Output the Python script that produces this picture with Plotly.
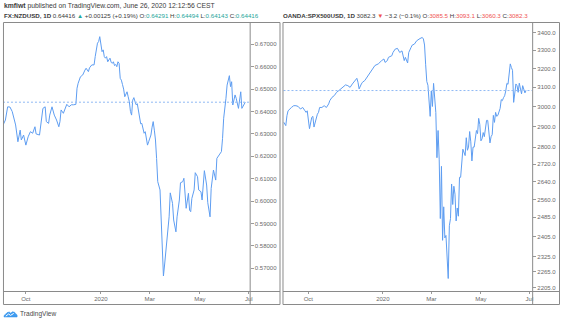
import plotly.graph_objects as go

# ---------------- data ----------------
nzd_dates = [
    "2019-09-03", "2019-09-05", "2019-09-09", "2019-09-11", "2019-09-13", "2019-09-17",
    "2019-09-18", "2019-09-20", "2019-09-24", "2019-09-25", "2019-09-27", "2019-10-01",
    "2019-10-03", "2019-10-07", "2019-10-09", "2019-10-11", "2019-10-14", "2019-10-17",
    "2019-10-21", "2019-10-22", "2019-10-24", "2019-10-25", "2019-10-29", "2019-10-30",
    "2019-11-01", "2019-11-05", "2019-11-07", "2019-11-11", "2019-11-12", "2019-11-13",
    "2019-11-15", "2019-11-19", "2019-11-20", "2019-11-22", "2019-11-26", "2019-11-28",
    "2019-12-02", "2019-12-03", "2019-12-04", "2019-12-06", "2019-12-10", "2019-12-12",
    "2019-12-13", "2019-12-17", "2019-12-18", "2019-12-20", "2019-12-24", "2019-12-25",
    "2019-12-26", "2019-12-27", "2019-12-30", "2019-12-31", "2020-01-02", "2020-01-03",
    "2020-01-06", "2020-01-07", "2020-01-08", "2020-01-09", "2020-01-10", "2020-01-13",
    "2020-01-14", "2020-01-15", "2020-01-16", "2020-01-17", "2020-01-20", "2020-01-21",
    "2020-01-22", "2020-01-23", "2020-01-24", "2020-01-27", "2020-01-28", "2020-01-29",
    "2020-01-30", "2020-01-31", "2020-02-03", "2020-02-04", "2020-02-05", "2020-02-06",
    "2020-02-07", "2020-02-10", "2020-02-11", "2020-02-12", "2020-02-13", "2020-02-14",
    "2020-02-17", "2020-02-18", "2020-02-19", "2020-02-20", "2020-02-21", "2020-02-24",
    "2020-02-25", "2020-02-26", "2020-02-27", "2020-02-28", "2020-03-02", "2020-03-03",
    "2020-03-04", "2020-03-05", "2020-03-06", "2020-03-09", "2020-03-10", "2020-03-11",
    "2020-03-13", "2020-03-17", "2020-03-18", "2020-03-19", "2020-03-23", "2020-03-25",
    "2020-03-26", "2020-03-30", "2020-03-31", "2020-04-02", "2020-04-03", "2020-04-07",
    "2020-04-08", "2020-04-10", "2020-04-13", "2020-04-14", "2020-04-15", "2020-04-17",
    "2020-04-20", "2020-04-21", "2020-04-22", "2020-04-24", "2020-04-27", "2020-04-29",
    "2020-04-30", "2020-05-04", "2020-05-05", "2020-05-07", "2020-05-11", "2020-05-12",
    "2020-05-14", "2020-05-15", "2020-05-19", "2020-05-21", "2020-05-22", "2020-05-26",
    "2020-05-28", "2020-05-29", "2020-06-01", "2020-06-03", "2020-06-04", "2020-06-08",
    "2020-06-09", "2020-06-10", "2020-06-11", "2020-06-15", "2020-06-16", "2020-06-18",
    "2020-06-19", "2020-06-22", "2020-06-23", "2020-06-25", "2020-06-26",
]
nzd_close = [
    0.6340, 0.6362, 0.6421, 0.6420, 0.6400, 0.6355,
    0.6340, 0.6265, 0.6317, 0.6273, 0.6295, 0.6250,
    0.6287, 0.6310, 0.6303, 0.6332, 0.6300, 0.6295,
    0.6370, 0.6414, 0.6421, 0.6355, 0.6347, 0.6384,
    0.6421, 0.6384, 0.6362, 0.6332, 0.6355, 0.6407,
    0.6392, 0.6421, 0.6432, 0.6421, 0.6430, 0.6430,
    0.6432, 0.6504, 0.6526, 0.6555, 0.6563, 0.6585,
    0.6593, 0.6578, 0.6595, 0.6608, 0.6608, 0.6645,
    0.6682, 0.6705, 0.6712, 0.6734, 0.6667, 0.6675,
    0.6645, 0.6638, 0.6645, 0.6622, 0.6630, 0.6638,
    0.6620, 0.6615, 0.6622, 0.6605, 0.6610, 0.6600,
    0.6622, 0.6615, 0.6548, 0.6540, 0.6520, 0.6500,
    0.6466, 0.6480, 0.6488, 0.6466, 0.6444, 0.6400,
    0.6384, 0.6451, 0.6462, 0.6444, 0.6430, 0.6435,
    0.6400, 0.6377, 0.6345, 0.6347, 0.6330, 0.6303,
    0.6310, 0.6280, 0.6250, 0.6265, 0.6280, 0.6295,
    0.6330, 0.6355, 0.6317, 0.6273, 0.6190, 0.6087,
    0.6050, 0.5737, 0.5666, 0.5715, 0.5826, 0.5930,
    0.6037, 0.5990, 0.5916, 0.5863, 0.5930, 0.6005,
    0.6082, 0.6087, 0.6102, 0.6005, 0.5968, 0.6035,
    0.5960, 0.5953, 0.6012, 0.6050, 0.6127, 0.6109,
    0.6050, 0.6042, 0.6005, 0.6136, 0.6072, 0.5993,
    0.5930, 0.6057, 0.6139, 0.6094, 0.6191, 0.6206,
    0.6221, 0.6280, 0.6370, 0.6459, 0.6518, 0.6560,
    0.6511, 0.6533, 0.6429, 0.6474, 0.6459, 0.6414,
    0.6466, 0.6488, 0.6414, 0.6437, 0.64416,
]

spx_dates = [
    "2019-08-30", "2019-09-03", "2019-09-04", "2019-09-05", "2019-09-10", "2019-09-12",
    "2019-09-16", "2019-09-18", "2019-09-20", "2019-09-24", "2019-09-26", "2019-09-27",
    "2019-09-30", "2019-10-01", "2019-10-02", "2019-10-04", "2019-10-07", "2019-10-08",
    "2019-10-09", "2019-10-11", "2019-10-14", "2019-10-15", "2019-10-17", "2019-10-21",
    "2019-10-23", "2019-10-25", "2019-10-28", "2019-10-30", "2019-11-01", "2019-11-05",
    "2019-11-07", "2019-11-11", "2019-11-13", "2019-11-15", "2019-11-19", "2019-11-21",
    "2019-11-25", "2019-11-27", "2019-11-29", "2019-12-02", "2019-12-03", "2019-12-05",
    "2019-12-06", "2019-12-10", "2019-12-11", "2019-12-13", "2019-12-17", "2019-12-19",
    "2019-12-23", "2019-12-26", "2019-12-27", "2019-12-31", "2020-01-02", "2020-01-03",
    "2020-01-07", "2020-01-08", "2020-01-13", "2020-01-14", "2020-01-16", "2020-01-20",
    "2020-01-22", "2020-01-24", "2020-01-28", "2020-01-29", "2020-01-31", "2020-02-03",
    "2020-02-05", "2020-02-06", "2020-02-10", "2020-02-12", "2020-02-17", "2020-02-19",
    "2020-02-20", "2020-02-21", "2020-02-24", "2020-02-25", "2020-02-26", "2020-02-27",
    "2020-02-28", "2020-03-02", "2020-03-03", "2020-03-04", "2020-03-05", "2020-03-06",
    "2020-03-09", "2020-03-10", "2020-03-11", "2020-03-12", "2020-03-13", "2020-03-16",
    "2020-03-17", "2020-03-18", "2020-03-19", "2020-03-20", "2020-03-23", "2020-03-24",
    "2020-03-25", "2020-03-26", "2020-03-27", "2020-03-30", "2020-03-31", "2020-04-01",
    "2020-04-02", "2020-04-03", "2020-04-06", "2020-04-07", "2020-04-08", "2020-04-09",
    "2020-04-13", "2020-04-14", "2020-04-15", "2020-04-16", "2020-04-17", "2020-04-20",
    "2020-04-21", "2020-04-22", "2020-04-23", "2020-04-24", "2020-04-27", "2020-04-28",
    "2020-04-29", "2020-04-30", "2020-05-01", "2020-05-04", "2020-05-05", "2020-05-06",
    "2020-05-07", "2020-05-08", "2020-05-11", "2020-05-12", "2020-05-13", "2020-05-14",
    "2020-05-15", "2020-05-18", "2020-05-19", "2020-05-20", "2020-05-21", "2020-05-22",
    "2020-05-26", "2020-05-27", "2020-05-28", "2020-05-29", "2020-06-01", "2020-06-02",
    "2020-06-03", "2020-06-04", "2020-06-05", "2020-06-08", "2020-06-09", "2020-06-10",
    "2020-06-11", "2020-06-12", "2020-06-15", "2020-06-16", "2020-06-17", "2020-06-18",
    "2020-06-19", "2020-06-22", "2020-06-23", "2020-06-24", "2020-06-25", "2020-06-26",
]
spx_close = [
    2922, 2904, 2953, 2978, 2995, 3004,
    3004, 3000, 2987, 2995, 2978, 2970,
    2978, 2922, 2889, 2945, 2950, 2897,
    2922, 2961, 2970, 2995, 2995, 3004,
    2995, 3013, 3030, 3047, 3056, 3073,
    3082, 3091, 3099, 3112, 3108, 3099,
    3117, 3135, 3147, 3126, 3091, 3117,
    3126, 3135, 3144, 3166, 3180, 3198,
    3216, 3225, 3233, 3243, 3252, 3233,
    3243, 3261, 3270, 3288, 3307, 3311,
    3288, 3297, 3243, 3261, 3230, 3288,
    3316, 3329, 3335, 3354, 3367, 3373,
    3364, 3330, 3220, 3130, 3110, 2990,
    2950, 3080, 3000, 3120, 3020, 2970,
    2750, 2880, 2740, 2480, 2710, 2390,
    2530, 2400, 2410, 2300, 2240, 2450,
    2480, 2630, 2540, 2620, 2585, 2470,
    2525, 2490, 2660, 2660, 2750, 2790,
    2760, 2845, 2785, 2800, 2875, 2825,
    2735, 2800, 2800, 2835, 2880, 2865,
    2940, 2910, 2830, 2840, 2870, 2850,
    2880, 2930, 2930, 2870, 2820, 2850,
    2860, 2955, 2920, 2970, 2950, 2955,
    2990, 3035, 3030, 3045, 3055, 3080,
    3120, 3115, 3195, 3225, 3205, 3190,
    3021, 3091, 3117, 3108, 3073, 3121,
    3100, 3065, 3108, 3088, 3070, 3082.3,
]

# header quote fields
nzd_quote = {"change": "+0.00125 (+0.19%)", "O": 0.64291, "H": 0.64494, "L": 0.64143}
spx_quote = {"change": "\u22123.2 (\u22120.1%)", "O": 3085.5, "H": 3093.1, "L": 3060.3}

nzd_ticks = [0.57, 0.58, 0.59, 0.60, 0.61, 0.62, 0.63, 0.64, 0.65, 0.66, 0.67]
spx_ticks = [2205, 2265, 2325, 2405, 2485, 2560, 2640, 2720, 2800, 2900,
             3000, 3100, 3200, 3300, 3400]
date_tickvals = ["2019-10-01", "2020-01-01", "2020-03-02", "2020-05-01", "2020-07-01"]
date_ticktext = ["Oct", "2020", "Mar", "May", "Jul"]

# ---------------- layout helpers ----------------
W, H = 565, 324
FONT = "Liberation Sans, Arial, sans-serif"
LINE_BLUE = "#5e9df1"
DOT_BLUE = "#8fb9f4"
FRAME = "#8a8a8a"
UP, DOWN = "#26a69a", "#ef5350"
TXT = "#3b3b3b"


def fx(p):
    return p / W


def fy(p):
    return 1 - p / H


plot_top, plot_bottom = 23, 291
ydom = [fy(plot_bottom), fy(plot_top)]

fig = go.Figure()
fig.add_trace(go.Scatter(x=nzd_dates, y=nzd_close, mode="lines",
                         line=dict(color=LINE_BLUE, width=1), xaxis="x", yaxis="y",
                         hoverinfo="skip"))
fig.add_trace(go.Scatter(x=spx_dates, y=spx_close, mode="lines",
                         line=dict(color=LINE_BLUE, width=1), xaxis="x2", yaxis="y2",
                         hoverinfo="skip"))

axis_font = dict(family=FONT, size=6, color="#6a6a6a")
common_x = dict(type="date", rangebreaks=[dict(bounds=["sat", "mon"])],
                tickvals=date_tickvals, ticktext=date_ticktext, ticks="outside",
                ticklen=2, tickcolor="#9a9a9a", tickfont=axis_font, showgrid=False,
                zeroline=False, showline=False, fixedrange=True)
common_y = dict(side="right", ticks="outside", ticklen=3, tickcolor="#9a9a9a",
                tickfont=axis_font, showgrid=False, zeroline=False, showline=False,
                fixedrange=True, domain=ydom)

fig.update_layout(
    width=W, height=H, margin=dict(l=0, r=0, t=0, b=0),
    paper_bgcolor="white", plot_bgcolor="white", showlegend=False,
    xaxis=dict(common_x, domain=[fx(3), fx(251)], anchor="y",
               range=["2019-09-02 21:07", "2020-07-01 20:24"]),
    yaxis=dict(common_y, anchor="x", range=[0.5599, 0.6795],
               tickvals=nzd_ticks, ticktext=[f"{v:.5f}" for v in nzd_ticks]),
    xaxis2=dict(common_x, domain=[fx(285), fx(535)], anchor="y2",
                range=["2019-08-29 22:48", "2020-07-03 09:50"]),
    yaxis2=dict(common_y, anchor="x2", type="log",
                range=[3.34104, 3.53868],
                tickvals=spx_ticks, ticktext=[f"{v:.1f}" for v in spx_ticks]),
)

shapes = []
# last-price dotted lines
for xr, yr, series in (("x domain", "y", nzd_close), ("x2 domain", "y2", spx_close)):
    shapes.append(dict(type="line", xref=xr, yref=yr, x0=0, x1=1,
                       y0=series[-1], y1=series[-1],
                       line=dict(color=DOT_BLUE, width=1, dash="2px,2px")))

# panel frames and scale separators
for left, sep, right in ((3, 251, 282), (284, 535, 563)):
    shapes.append(dict(type="rect", xref="paper", yref="paper",
                       x0=fx(left + 0.5), x1=fx(right - 0.5), y0=fy(304.5), y1=fy(22.5),
                       line=dict(color=FRAME, width=1), fillcolor="rgba(0,0,0,0)"))
    shapes.append(dict(type="line", xref="paper", yref="paper",
                       x0=fx(sep + 0.5), x1=fx(sep + 0.5), y0=fy(304.5), y1=fy(22.5),
                       line=dict(color=FRAME, width=1)))
    shapes.append(dict(type="line", xref="paper", yref="paper",
                       x0=fx(left + 0.5), x1=fx(right - 0.5), y0=fy(291.5), y1=fy(291.5),
                       line=dict(color=FRAME, width=1)))

# brand cloud mark
cloud = [(4, 317), (4.3, 315.2), (5.6, 314.2), (7.2, 312.6), (9.3, 312.0), (10.8, 313.2),
         (12.4, 311.8), (14.6, 312.2), (15.8, 313.7), (17.2, 314.9), (17.2, 317)]
path = "M " + " L ".join(f"{fx(a):.5f},{fy(b):.5f}" for a, b in cloud) + " Z"
shapes.append(dict(type="path", xref="paper", yref="paper", path=path,
                   fillcolor="#3f9cf0", line=dict(color="#2f8fe8", width=0.5)))
zig = [(5.8, 316.2), (8.6, 314.0), (10.6, 315.4), (13.8, 313.4)]
zpath = "M " + " L ".join(f"{fx(a):.5f},{fy(b):.5f}" for a, b in zig)
shapes.append(dict(type="path", xref="paper", yref="paper", path=zpath,
                   line=dict(color="white", width=1)))
fig.update_layout(shapes=shapes)


def col(v, c):
    return f"<span style='color:{c}'>{v}</span>"


nzd_last = f"{nzd_close[-1]:.5f}"
spx_last = f"{spx_close[-1]:.1f}"
row_left = (f"<b>FX:NZDUSD, 1D</b> {nzd_last} {col('▲', UP)} {nzd_quote['change']} "
            f"O:{col(f'{nzd_quote['O']:.5f}', UP)} H:{col(f'{nzd_quote['H']:.5f}', UP)} "
            f"L:{col(f'{nzd_quote['L']:.5f}', UP)} C:{col(nzd_last, UP)}")
row_right = (f"<b>OANDA:SPX500USD, 1D</b> {spx_last} {col('▼', DOWN)} {spx_quote['change']} "
             f"O:{col(f'{spx_quote['O']:.1f}', DOWN)} H:{col(f'{spx_quote['H']:.1f}', DOWN)} "
             f"L:{col(f'{spx_quote['L']:.1f}', DOWN)} C:{col(spx_last, DOWN)}")

annotations = [
    dict(text="<b>kmfiwt</b> published on TradingView.com, June 26, 2020 12:12:56 CEST",
         x=fx(2), y=fy(6), font=dict(family=FONT, size=6.8, color=TXT)),
    dict(text=row_left, x=fx(2), y=fy(15.5), font=dict(family=FONT, size=6.2, color=TXT)),
    dict(text=row_right, x=fx(283), y=fy(15.5), font=dict(family=FONT, size=6.2, color=TXT)),
    dict(text="TradingView", x=fx(18.5), y=fy(314.3),
         font=dict(family=FONT, size=6.6, color="#4a4a4a")),
]
for a in annotations:
    a.update(xref="paper", yref="paper", xanchor="left", yanchor="middle",
             showarrow=False, align="left")
fig.update_layout(annotations=annotations)

fig.write_html("out.html", config={"displayModeBar": False, "staticPlot": True})
